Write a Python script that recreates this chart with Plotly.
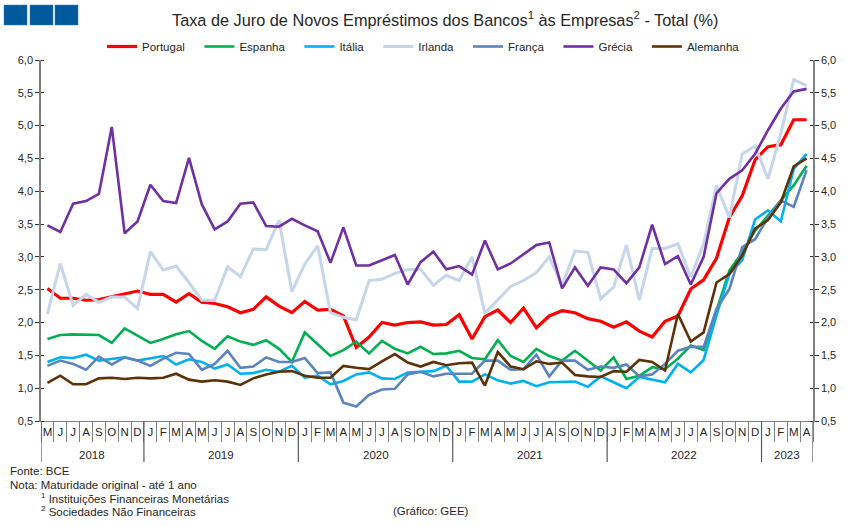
import plotly.graph_objects as go

W, H = 851, 526
L, R, T, B = 41, 38, 60, 105

months = list("MJJASOND") + list("JFMAMJJASOND") * 4 + list("JFMA")
years = ["2018", "2019", "2020", "2021", "2022", "2023"]
year_first = [0, 8, 20, 32, 44, 56]
year_last = [7, 19, 31, 43, 55, 59]

portugal = [2.52,2.37,2.37,2.34,2.35,2.39,2.44,2.48,2.43,2.43,2.31,2.44,2.31,2.29,2.24,2.15,2.20,2.39,2.25,2.15,
            2.32,2.19,2.20,2.10,1.62,1.78,2.00,1.96,2.00,2.01,1.96,1.97,2.12,1.75,2.09,2.19,2.00,2.22,1.92,2.10,
            2.18,2.15,2.06,2.02,1.93,2.01,1.87,1.78,2.02,2.10,2.51,2.65,2.98,3.60,3.93,4.48,4.68,4.71,5.09,5.09]
espanha = [1.75,1.81,1.82,1.81,1.81,1.69,1.91,1.80,1.69,1.75,1.82,1.87,1.72,1.60,1.79,1.71,1.66,1.73,1.60,1.40,
           1.85,1.67,1.49,1.58,1.71,1.53,1.72,1.60,1.53,1.63,1.52,1.53,1.57,1.46,1.44,1.73,1.49,1.40,1.60,1.49,
           1.42,1.57,1.42,1.27,1.47,1.14,1.19,1.32,1.29,1.45,1.65,1.58,2.18,2.79,3.07,3.40,3.63,3.86,4.09,4.39]
italia = [1.40,1.47,1.46,1.51,1.42,1.45,1.47,1.42,1.45,1.49,1.36,1.44,1.40,1.30,1.36,1.22,1.23,1.28,1.25,1.34,
          1.16,1.19,1.06,1.11,1.21,1.24,1.15,1.14,1.24,1.25,1.26,1.34,1.10,1.10,1.21,1.12,1.07,1.11,1.03,1.09,
          1.10,1.10,1.02,1.18,1.09,1.00,1.17,1.13,1.09,1.37,1.24,1.43,2.11,2.74,2.95,3.57,3.71,3.54,4.34,4.57]
irlanda = [2.13,2.90,2.26,2.43,2.31,2.39,2.39,2.21,3.08,2.80,2.86,2.61,2.34,2.34,2.85,2.70,3.12,3.11,3.56,2.47,
           2.89,3.17,2.15,2.08,2.04,2.64,2.66,2.75,2.81,2.81,2.57,2.72,2.64,3.00,2.14,2.34,2.55,2.64,2.76,3.00,
           2.56,3.09,3.07,2.36,2.54,3.18,2.34,3.13,3.13,3.20,2.69,3.20,4.09,3.60,4.57,4.69,4.19,4.88,5.70,5.61]
franca = [1.34,1.42,1.37,1.28,1.48,1.36,1.47,1.42,1.34,1.45,1.54,1.52,1.28,1.37,1.57,1.31,1.33,1.47,1.40,1.40,
          1.46,1.23,1.24,0.78,0.72,0.90,0.98,0.99,1.21,1.25,1.18,1.22,1.22,1.22,1.42,1.42,1.28,1.29,1.51,1.18,
          1.42,1.42,1.28,1.33,1.31,1.36,1.18,1.21,1.37,1.57,1.63,1.63,2.21,2.51,3.15,3.27,3.60,3.86,3.76,4.32]
grecia = [3.48,3.38,3.81,3.85,3.96,4.98,3.36,3.54,4.10,3.85,3.82,4.51,3.80,3.42,3.54,3.81,3.83,3.47,3.46,3.58,
          3.48,3.39,2.91,3.45,2.87,2.87,2.95,3.03,2.58,2.92,3.08,2.81,2.86,2.73,3.25,2.81,2.90,3.04,3.18,3.22,
          2.52,2.84,2.56,2.84,2.81,2.60,2.84,3.49,2.89,3.01,2.58,3.00,3.97,4.19,4.32,4.57,4.93,5.26,5.52,5.56]
alemanha = [1.08,1.19,1.06,1.06,1.15,1.16,1.14,1.16,1.15,1.16,1.22,1.13,1.10,1.12,1.10,1.05,1.15,1.21,1.25,1.26,
            1.19,1.16,1.16,1.34,1.31,1.29,1.41,1.52,1.39,1.33,1.40,1.35,1.38,1.39,1.04,1.55,1.33,1.29,1.41,1.37,
            1.39,1.20,1.18,1.17,1.26,1.25,1.43,1.40,1.27,2.13,1.71,1.85,2.61,2.74,3.02,3.43,3.56,3.83,4.38,4.50]

series = [("Portugal", portugal, "#FF0000", 3.2),
          ("Espanha", espanha, "#00B050", 2.6),
          ("Itália", italia, "#00B0F0", 2.6),
          ("Irlanda", irlanda, "#C6D5EA", 3.0),
          ("França", franca, "#5B84BC", 2.6),
          ("Grécia", grecia, "#7030A0", 2.6),
          ("Alemanha", alemanha, "#5C3206", 2.6)]

FONT = "Liberation Sans"
TXT = "#262626"
x = list(range(len(months)))
fig = go.Figure()
for name, vals, col, w in series:
    fig.add_trace(go.Scatter(x=x, y=vals, name=name + "\u00a0\u00a0\u00a0", mode="lines",
                             line=dict(color=col, width=w)))
fig.add_trace(go.Scatter(x=x, y=portugal, yaxis="y2", mode="lines", opacity=0, showlegend=False,
                         hoverinfo="skip", line=dict(width=0)))

yticks = [0.5 + 0.5 * i for i in range(12)]
ylabels = [f"{v:.1f}".replace(".", ",") for v in yticks]
ycommon = dict(range=[0.5, 6], tickvals=yticks, ticktext=ylabels, showgrid=False, zeroline=False,
               showline=True, linecolor="#7F7F7F", linewidth=1.5, ticks="outside", ticklen=4,
               tickcolor="#333333", tickfont=dict(family=FONT, size=11, color=TXT),
               minor=dict(tickvals=yticks, ticks="inside", ticklen=3, tickcolor="#333333"))

PW, PH = W - L - R, H - T - B
def px_x(p): return (p - L) / PW
def px_y(p): return 1 - (p - T) / PH

shapes = []
for x0, x1 in [(4, 27), (30, 53), (55, 78)]:
    shapes.append(dict(type="rect", xref="paper", yref="paper", x0=px_x(x0), x1=px_x(x1),
                       y0=px_y(25), y1=px_y(5), fillcolor="#005A9C", line=dict(color="#3E7FAE", width=0.5)))
for first in year_first + [len(months)]:
    shapes.append(dict(type="line", xref="x", yref="paper", x0=first - 0.5, x1=first - 0.5,
                       y0=0, y1=px_y(462), line=dict(color="#595959", width=1.2)))

ann = [dict(text=y, x=(a + b) / 2, xref="x", y=px_y(455), yref="paper", showarrow=False,
            font=dict(family=FONT, size=11.5, color=TXT), xanchor="center", yanchor="middle")
       for y, a, b in zip(years, year_first, year_last)]
def note(text, xp, yp, size=11.5):
    return dict(text=text, x=px_x(xp), y=px_y(yp), xref="paper", yref="paper", showarrow=False,
                xanchor="left", yanchor="middle", font=dict(family=FONT, size=size, color=TXT))
ann += [note("Fonte: BCE", 8, 471), note("Nota: Maturidade original - até 1 ano", 8, 485),
        note("<sup>1</sup> Instituições Financeiras Monetárias", 39, 498),
        note("<sup>2</sup> Sociedades Não Financeiras", 39, 511),
        note("(Gráfico: GEE)", 391, 511)]
ann.append(dict(text="Taxa de Juro de Novos Empréstimos dos Bancos<sup>1</sup> às Empresas<sup>2</sup> - Total (%)",
                x=px_x(444.5), y=px_y(18.5), xref="paper", yref="paper", showarrow=False,
                xanchor="center", yanchor="middle", font=dict(family=FONT, size=16.3, color=TXT)))

fig.update_layout(
    width=W, height=H, margin=dict(l=L, r=R, t=T, b=B, autoexpand=False),
    paper_bgcolor="white", plot_bgcolor="white", hovermode=False,
    font=dict(family=FONT, size=11, color=TXT),
    xaxis=dict(range=[-0.5, 59.5], tickmode="array", tickvals=x, ticktext=months, ticks="", showgrid=False,
               zeroline=False, showline=True, linecolor="#7F7F7F", linewidth=1.2,
               tickfont=dict(family=FONT, size=11.5, color=TXT), tickangle=0,
               minor=dict(tick0=-0.5, dtick=1, ticks="outside", ticklen=20, tickcolor="#7F7F7F", tickwidth=1)),
    yaxis=dict(side="left", **ycommon),
    yaxis2=dict(side="right", overlaying="y", **ycommon),
    legend=dict(orientation="h", x=px_x(102), xanchor="left", y=px_y(32), yanchor="top", itemwidth=30,
                font=dict(family=FONT, size=11.5, color=TXT), bgcolor="rgba(0,0,0,0)", traceorder="normal"),
    shapes=shapes, annotations=ann,
)
fig.write_html("out.html", config=dict(displayModeBar=False),
               post_script="document.body.style.margin='0';")
